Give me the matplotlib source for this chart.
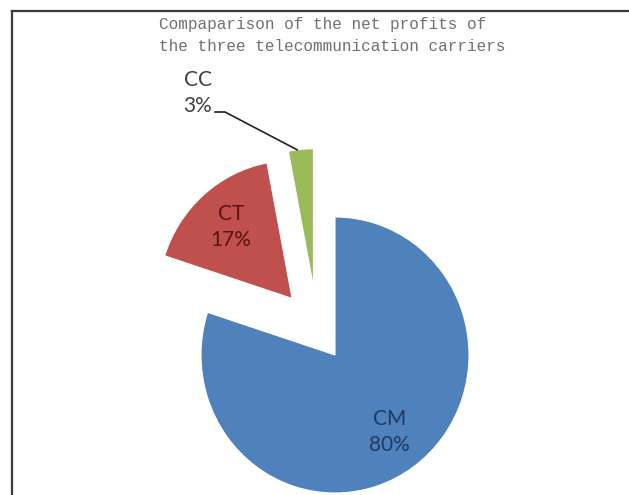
import numpy as np
import matplotlib
matplotlib.use("Agg")
import matplotlib.pyplot as plt
from matplotlib.lines import Line2D

# data
names = ["CM", "CT", "CC"]
shares = [80, 17, 3]
colors = ["#4F81BD", "#C0504D", "#9BBB59"]
label_colors = ["#1F3A63", "#5A1414", "#404040"]
explode = [0.0, 0.52, 0.52]
title = "Compaparison of the net profits of\nthe three telecommunication carriers"

W, H = 629, 495
cx, cy = 335, 355      # pie centre in pixels (from top-left)
rx, ry = 134, 138      # pixels per data unit


def px(x, y):
    return (x - cx) / rx, (cy - y) / ry


fig = plt.figure(figsize=(W / 100, H / 100), dpi=100)
ax = fig.add_axes([0, 0, 1, 1])

wedges, _ = ax.pie(shares, colors=colors, explode=explode, startangle=90,
                   counterclock=False, radius=1.0,
                   wedgeprops=dict(edgecolor="white", linewidth=0.8))

# the small slice is pulled out a bit more to the left in the original
ang = np.deg2rad(108)
wedges[2].set_center((0.52 * np.cos(ang), 0.52 * np.sin(ang)))
ang = np.deg2rad(128)
wedges[1].set_center((0.52 * np.cos(ang), 0.52 * np.sin(ang)))

ax.set_xlim(-cx / rx, (W - cx) / rx)
ax.set_ylim(-(H - cy) / ry, cy / ry)
ax.set_aspect("auto")
ax.axis("off")

lab_font = dict(family=["Lato", "DejaVu Sans"], fontsize=15,
                ha="center", va="center", linespacing=1.35)

# inside labels
for i in range(2):
    w = wedges[i]
    mid = np.deg2rad((w.theta1 + w.theta2) / 2)
    c = w.center
    d = 0.69
    ax.text(c[0] + d * np.cos(mid), c[1] + d * np.sin(mid),
            f"{names[i]}\n{shares[i]}%", color=label_colors[i], **lab_font)

# outside label for CC with leader line
w = wedges[2]
tip = np.deg2rad(97)
c = w.center
ax.text(*px(198, 93), f"{names[2]}\n{shares[2]}%", color=label_colors[2], **lab_font)
ax.plot([px(215, 112)[0], px(225, 112)[0], c[0] + np.cos(tip)],
        [px(215, 112)[1], px(225, 112)[1], c[1] + np.sin(tip)],
        color="#202020", lw=1.2)

fig.text(159 / W, 1 - 17 / H, title, ha="left", va="top",
         family="Liberation Mono", fontsize=11.5, color="#707070",
         linespacing=1.6)

# chart border (bottom/right cut off in the original)
fig.add_artist(Line2D([12 / W, 1.0], [1 - 11 / H, 1 - 11 / H],
                      transform=fig.transFigure, color="#3A3A3A", lw=1.6))
fig.add_artist(Line2D([12 / W, 12 / W], [1 - 11 / H, 0.0],
                      transform=fig.transFigure, color="#3A3A3A", lw=1.6))

fig.savefig("out.png", dpi=100)
